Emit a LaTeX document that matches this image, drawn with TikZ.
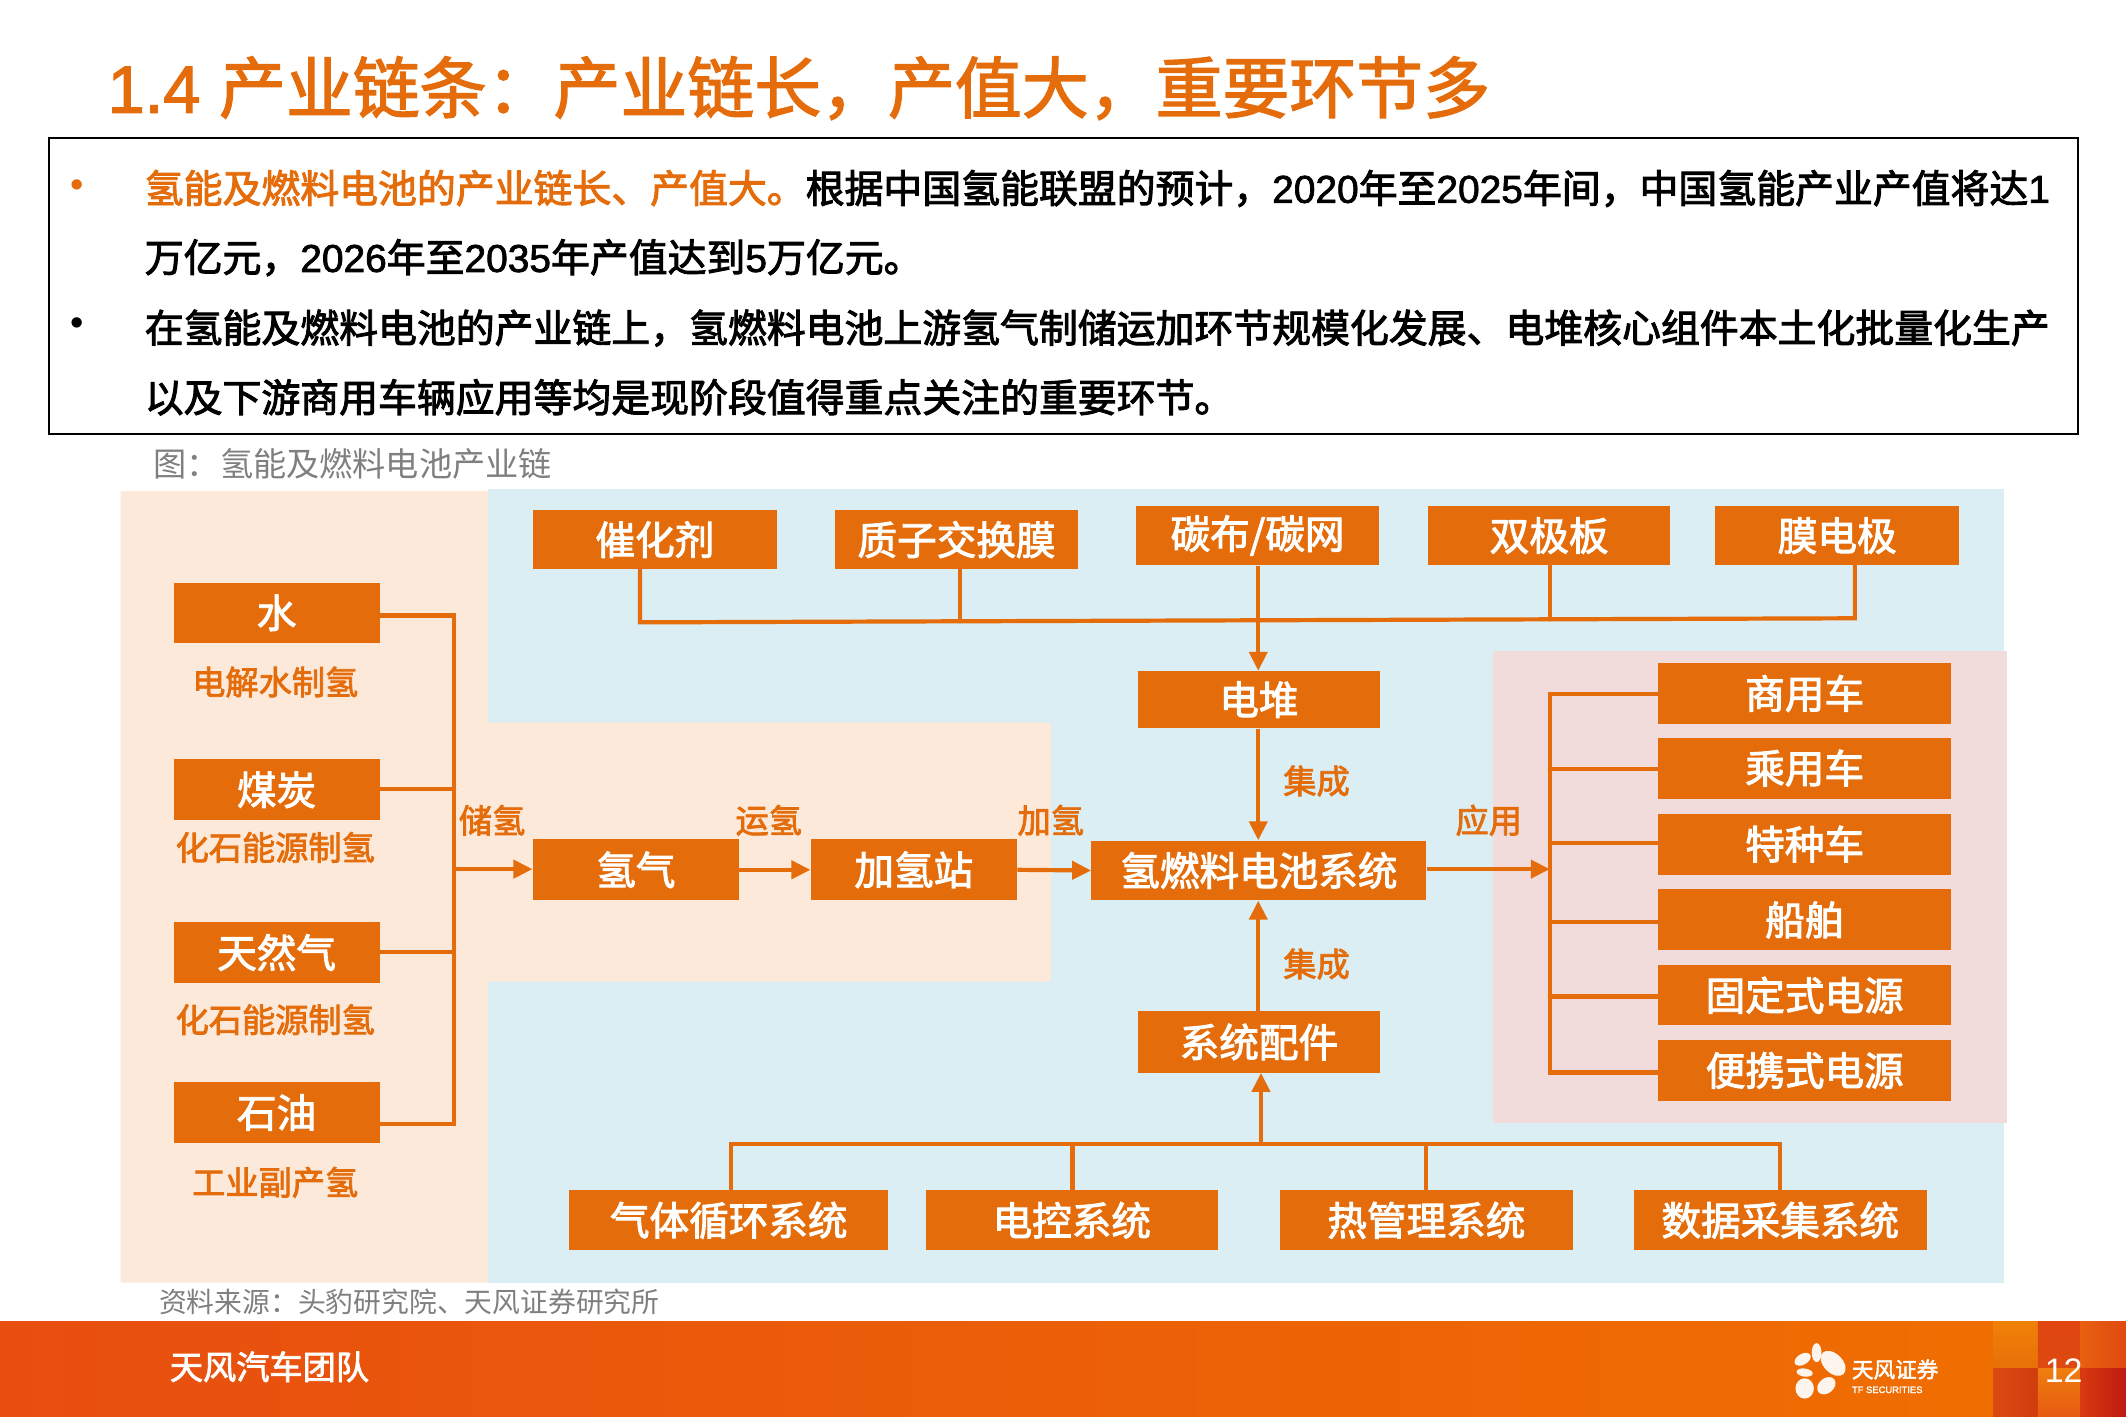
\documentclass[tikz,border=0pt]{standalone}
\usepackage{fontspec}
\usetikzlibrary{arrows.meta,shadings}
\setmainfont{Liberation Sans}
\newfontfamily\cjkm[FakeBold=2.4]{Noto Sans CJK SC}
\newfontfamily\cjkt[FakeBold=2]{Noto Sans CJK SC}
\newfontfamily\cjkr{Noto Sans CJK SC}
\newfontfamily\latm[FakeBold=1.8]{Liberation Sans}
\newfontfamily\latr{Liberation Sans}
\newcommand{\numtxt}[1]{{\latm #1}}
\definecolor{tforange}{HTML}{E46C0A}
\definecolor{peachbg}{HTML}{FDE9DA}
\definecolor{bluebg}{HTML}{DAEEF3}
\definecolor{pinkbg}{HTML}{F2DCDB}
\definecolor{capgrey}{HTML}{7F7F7F}
\definecolor{ftL}{HTML}{E84E10}
\definecolor{ftR}{HTML}{F07000}
\definecolor{sqA}{HTML}{F08008}
\definecolor{sqAb}{HTML}{E87008}
\definecolor{sqB}{HTML}{E04510}
\definecolor{sqBb}{HTML}{DD4A10}
\definecolor{sqC}{HTML}{E86010}
\definecolor{sqCb}{HTML}{E04A10}
\definecolor{sqD}{HTML}{DC4A10}
\definecolor{sqDb}{HTML}{D03C0E}
\definecolor{sqE}{HTML}{EE7E10}
\definecolor{sqEb}{HTML}{E85A10}
\definecolor{sqF}{HTML}{D83A10}
\definecolor{sqFb}{HTML}{BE1A10}
\tikzset{
  orangebox/.style={fill=tforange,draw=none,inner sep=0pt,text=white,font=\cjkm\fontsize{19.8pt}{20pt}\selectfont},
  sublabel/.style={text=tforange,inner sep=0pt,font=\cjkm\fontsize{16.6pt}{17pt}\selectfont},
  bodyline/.style={anchor=west,inner sep=0pt,text=black,font=\cjkm\fontsize{19.44pt}{20pt}\selectfont},
  capline/.style={anchor=west,inner sep=0pt,text=capgrey},
  wire/.style={draw=tforange,line width=2.1pt,line cap=round,line join=miter},
  flow/.style={wire,line cap=butt,-{Triangle[length=9.5pt,width=9pt]}},
  petal/.style={fill=white,opacity=.93,draw=none}
}
\newcommand{\obx}[6]{%
  \node[orangebox,minimum width={(#4-#2)*0.678pt},minimum height={(#5-#3)*0.678pt}] (#1) at ({(#2+#4)/2},{(#3+#5)/2}) {#6};}
\begin{document}
\begin{tikzpicture}[x=0.678pt,y=-0.678pt]
\useasboundingbox (0,0) rectangle (1568,1045);
% backgrounds
\fill[bluebg] (360,361) rectangle (1478,946);
\fill[peachbg] (89,362) -- (360,362) -- (360,533) -- (775,533) -- (775,724) -- (360,724) -- (360,946) -- (89,946) -- cycle;
\fill[pinkbg] (1101,480) rectangle (1480,828);
% footer
\fill[left color=ftL,right color=ftR] (0,975) rectangle (1568,1045);
\fill[top color=sqA,bottom color=sqAb] (1470,975) rectangle (1503,1009);
\fill[top color=sqB,bottom color=sqBb] (1503,975) rectangle (1534.5,1009);
\fill[left color=sqC,right color=sqCb] (1534.5,975) rectangle (1568,1009);
\fill[left color=sqD,right color=sqDb] (1470,1009) rectangle (1503,1045);
\fill[top color=sqE,bottom color=sqEb] (1503,1009) rectangle (1534.5,1045);
\fill[left color=sqF,right color=sqFb] (1534.5,1009) rectangle (1568,1045);
% title
\node[anchor=west,inner sep=0pt,text=tforange] (title) at (79,65) {\latm\fontsize{33.45pt}{34pt}\selectfont 1.4 \cjkt\fontsize{33.45pt}{34pt}\selectfont 产业链条：产业链长，产值大，重要环节多};
% text frame
\draw[black,line width=1pt] (36.5,102) rectangle (1532.5,320);
\node[inner sep=0pt,text=tforange,font=\latr\fontsize{19pt}{20pt}\selectfont] (b1) at (57,139) {•};
\node[inner sep=0pt,text=black,font=\latr\fontsize{19pt}{20pt}\selectfont] (b2) at (57,241) {•};
\node[bodyline] (l1) at (106.5,139) {\textcolor{tforange}{氢能及燃料电池的产业链长、产值大。}根据中国氢能联盟的预计，\numtxt{2020}年至\numtxt{2025}年间，中国氢能产业产值将达\numtxt{1}};
\node[bodyline] (l2) at (106.5,190) {万亿元，\numtxt{2026}年至\numtxt{2035}年产值达到\numtxt{5}万亿元。};
\node[bodyline] (l3) at (106.5,242) {在氢能及燃料电池的产业链上，氢燃料电池上游氢气制储运加环节规模化发展、电堆核心组件本土化批量化生产};
\node[bodyline] (l4) at (106.5,293) {以及下游商用车辆应用等均是现阶段值得重点关注的重要环节。};
\node[capline,font=\cjkr\fontsize{16.6pt}{17pt}\selectfont] (cap) at (113,342) {图：氢能及燃料电池产业链};
\node[capline,font=\cjkr\fontsize{13.9pt}{15pt}\selectfont] (src) at (117,960) {资料来源：头豹研究院、天风证券研究所};
% top components
\obx{cat}{393}{376}{573}{420}{催化剂}
\obx{pem}{616}{376}{795}{420}{质子交换膜}
\obx{cloth}{838}{373}{1017}{417}{碳布/碳网}
\obx{bip}{1053}{373}{1232}{417}{双极板}
\obx{mea}{1265}{373}{1445}{417}{膜电极}
% sources
\obx{water}{128}{430}{280}{474}{水}
\obx{coal}{128}{560}{280}{605}{煤炭}
\obx{gas}{128}{680}{280}{725}{天然气}
\obx{oil}{128}{798}{280}{843}{石油}
\node[sublabel] (s1) at (203,503) {电解水制氢};
\node[sublabel] (s2) at (203,625) {化石能源制氢};
\node[sublabel] (s3) at (203,752) {化石能源制氢};
\node[sublabel] (s4) at (203,872) {工业副产氢};
% chain
\obx{h2}{393}{619}{545}{664}{氢气}
\obx{stn}{598}{619}{750}{664}{加氢站}
\obx{fcs}{805}{620}{1052}{664}{氢燃料电池系统}
\obx{stack}{839}{495}{1018}{537}{电堆}
\obx{parts}{839}{746}{1018}{791}{系统配件}
% applications
\obx{a1}{1223}{489}{1439}{534}{商用车}
\obx{a2}{1223}{544}{1439}{589}{乘用车}
\obx{a3}{1223}{600}{1439}{645}{特种车}
\obx{a4}{1223}{656}{1439}{701}{船舶}
\obx{a5}{1223}{712}{1439}{756}{固定式电源}
\obx{a6}{1223}{767}{1439}{812}{便携式电源}
% subsystems
\obx{d1}{420}{878}{655}{922}{气体循环系统}
\obx{d2}{683}{878}{898}{922}{电控系统}
\obx{d3}{944}{878}{1160}{922}{热管理系统}
\obx{d4}{1205}{878}{1421}{922}{数据采集系统}
% edge labels
\node[sublabel] (e1) at (363,605) {储氢};
\node[sublabel] (e2) at (567,605) {运氢};
\node[sublabel] (e3) at (775,605) {加氢};
\node[sublabel] (e4) at (971,576) {集成};
\node[sublabel] (e5) at (971,711) {集成};
\node[sublabel] (e6) at (1098,605) {应用};
% bus points
\coordinate (lb1) at (335,454);
\coordinate (lb2) at (335,582);
\coordinate (lb3) at (335,641);
\coordinate (lb4) at (335,702);
\coordinate (lb5) at (335,829);
\coordinate (tb1) at (472,459);
\coordinate (tb2) at (708,458.2);
\coordinate (tb3) at (928,457.5);
\coordinate (tb4) at (1143,456.8);
\coordinate (tb5) at (1368,456);
\coordinate (bb0) at (930,844);
\coordinate (bb1) at (539,844);
\coordinate (bb2) at (791,844);
\coordinate (bb3) at (1052,844);
\coordinate (bb4) at (1313,844);
\coordinate (rb0) at (1143,641);
\coordinate (rb1) at (1143,512);
\coordinate (rb2) at (1143,567);
\coordinate (rb3) at (1143,622);
\coordinate (rb4) at (1143,680);
\coordinate (rb5) at (1143,735);
\coordinate (rb6) at (1143,791);
% left bus
\draw[wire] (water.east |- lb1) -- (lb1) -- (lb5) -- (oil.east |- lb5);
\draw[wire] (coal.east |- lb2) -- (lb2);
\draw[wire] (gas.east |- lb4) -- (lb4);
\draw[flow] (lb3) -- (h2.west |- lb3);
\draw[flow] (h2.east) -- (stn.west);
\draw[flow] (stn.east) -- (fcs.west);
% top bus
\draw[wire] (cat.south -| tb1) -- (tb1) -- (tb5) -- (mea.south -| tb5);
\draw[wire] (pem.south -| tb2) -- (tb2);
\draw[wire] (bip.south -| tb4) -- (tb4);
\draw[flow] (cloth.south -| tb3) -- (stack.north -| tb3);
\draw[flow] (stack.south -| tb3) -- (fcs.north -| tb3);
\draw[flow] (parts.north -| tb3) -- (fcs.south -| tb3);
% bottom bus
\draw[wire] (d1.north -| bb1) -- (bb1) -- (bb4) -- (d4.north -| bb4);
\draw[wire] (d2.north -| bb2) -- (bb2);
\draw[wire] (d3.north -| bb3) -- (bb3);
\draw[flow] (bb0) -- (parts.south -| bb0);
% right bus
\draw[flow] (fcs.east |- rb0) -- (rb0);
\draw[wire] (a1.west |- rb1) -- (rb1) -- (rb6) -- (a6.west |- rb6);
\draw[wire] (a2.west |- rb2) -- (rb2);
\draw[wire] (a3.west |- rb3) -- (rb3);
\draw[wire] (a4.west |- rb4) -- (rb4);
\draw[wire] (a5.west |- rb5) -- (rb5);
% footer text
\node[anchor=west,inner sep=0pt,text=white,font=\cjkm\fontsize{16.6pt}{17pt}\selectfont] (team) at (125,1008) {天风汽车团队};
\node[inner sep=0pt,text=white,font=\latr\fontsize{17pt}{18pt}\selectfont] (page) at (1522,1011) {12};
% logo
\fill[petal] (1339.8,997.6) ellipse [x radius=3.6,y radius=7];
\fill[petal,rotate around={30:(1329.5,1002.5)}] (1329.5,1002.5) ellipse [x radius=6.5,y radius=4];
\fill[petal,rotate around={-45:(1352,1005.5)}] (1352,1005.5) ellipse [x radius=11,y radius=7];
\fill[petal,rotate around={-8:(1331,1012.3)}] (1331,1012.3) ellipse [x radius=6,y radius=3];
\fill[petal] (1331,1024) ellipse [x radius=6.8,y radius=7.5];
\fill[petal,rotate around={40:(1347,1022)}] (1347,1022) ellipse [x radius=7.5,y radius=5.5];
\node[anchor=west,inner sep=0pt,text=white,font=\cjkm\fontsize{10.8pt}{11pt}\selectfont] (lg1) at (1365.6,1010) {天风证券};
\node[anchor=west,inner sep=0pt,text=white,font=\latm\fontsize{4.7pt}{5pt}\selectfont] (lg2) at (1365.6,1025) {TF SECURITIES};
\end{tikzpicture}
\end{document}
